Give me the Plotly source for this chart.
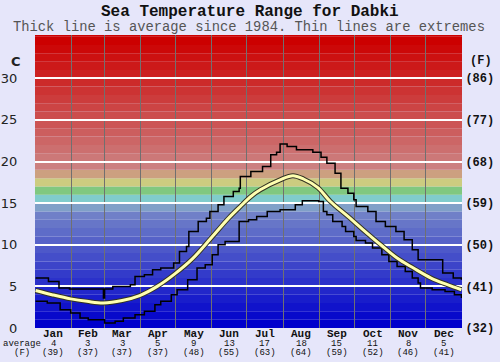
import plotly.graph_objects as go

# ---- data ----
months = ["Jan", "Feb", "Mar", "Apr", "May", "Jun", "Jul", "Aug", "Sep", "Oct", "Nov", "Dec"]
month_mid_day = [16, 45.5, 75, 105.5, 136, 166.5, 197, 228, 258.5, 289, 319.5, 350]
month_avg_c = [4, 3, 3, 5, 9, 13, 17, 18, 15, 11, 8, 5]
month_avg_f = [39, 37, 37, 37, 48, 55, 63, 64, 59, 52, 46, 41]
month_bounds = [31.5, 59.5, 90.5, 120.5, 151.5, 181.5, 212.5, 243.5, 273.5, 304.5, 334.5]

avg_days = [1, 15, 31, 45, 59, 75, 90, 105, 120, 135, 151, 166, 176, 185, 193, 210, 221,
            230, 242, 253, 268, 281, 296, 310, 324, 339, 353, 365]
avg_vals = [4.5, 4.0, 3.5, 3.2, 3.0, 3.3, 3.9, 5.0, 6.5, 8.3, 10.8, 13.2, 14.6, 15.8, 16.6, 17.8, 18.3,
            17.9, 16.9, 15.2, 13.4, 11.8, 10.0, 8.4, 7.2, 6.0, 5.2, 4.6]

max_days = [1, 12, 21, 30, 59, 60, 67, 82, 86, 94, 101, 108, 119, 124, 130, 132, 140, 147, 150,
            157, 162, 170, 175, 176, 185, 195, 202, 207, 210, 216, 224, 238, 245, 250, 257, 262,
            268, 273, 275, 285, 292, 300, 309, 316, 323, 328, 349, 358, 365]
max_vals = [6.0, 5.6, 4.8, 4.7, 3.6, 4.7, 5.0, 5.2, 6.2, 6.4, 7.0, 7.2, 7.8, 9.2, 9.8, 11.6, 12.8, 13.2, 14.0,
            14.8, 15.8, 16.4, 16.8, 18.2, 18.8, 19.4, 20.8, 21.1, 22.1, 21.8, 21.4, 21.1, 20.5, 19.8, 18.6, 16.8,
            16.2, 15.4, 14.6, 14.0, 12.8, 12.2, 11.6, 10.6, 9.4, 8.2, 6.6, 6.0, 5.8]

min_days = [1, 11, 22, 31, 39, 46, 60, 69, 76, 86, 94, 103, 108, 117, 122, 131, 139, 146, 152, 157,
            163, 175, 183, 190, 199, 210, 223, 229, 243, 247, 250, 255, 263, 266, 273, 275, 283, 289,
            297, 303, 310, 317, 323, 328, 330, 340, 351, 359, 365]
min_vals = [3.2, 3.0, 2.2, 1.8, 1.2, 1.0, 0.6, 0.8, 1.2, 1.6, 2.0, 2.8, 3.2, 4.0, 4.6, 5.8, 7.2, 7.6, 8.8, 10.0,
            10.4, 12.8, 13.0, 13.4, 14.0, 14.2, 14.8, 15.3, 15.2, 14.0, 13.6, 12.8, 12.2, 11.6, 11.0, 10.5, 10.2, 9.6,
            8.8, 8.0, 7.4, 6.8, 6.0, 5.4, 4.8, 4.6, 4.4, 4.0, 3.6]

c_ticks = [0, 5, 10, 15, 20, 25, 30]
f_ticks = ["(32)", "(41)", "(50)", "(59)", "(68)", "(77)", "(86)"]

# ---- background colour bands (one per degree) ----
def band_color(v):
    if v <= 13:
        t = v / 13.0
        r = 0 + t * 112
        g = 0 + t * 128
        b = 204 - t * 4
        return f"rgb({int(r)},{int(g)},{int(b)})"
    special = {14: "rgb(128,160,200)", 15: "rgb(128,204,204)", 16: "rgb(128,200,128)",
               17: "rgb(204,204,128)", 18: "rgb(204,160,128)", 19: "rgb(204,128,128)"}
    if v in special:
        return special[v]
    t = min((v - 20) / 14.0, 1.0)
    gb = int(120 * (1 - t))
    return f"rgb(204,{gb},{gb})"

shapes = []
for v in range(0, 36):
    shapes.append(dict(type="rect", xref="paper", yref="y", x0=0, x1=1, y0=v, y1=v + 1,
                       fillcolor=band_color(v), line=dict(width=0), layer="below"))

fig = go.Figure()
fig.add_trace(go.Scatter(x=max_days, y=max_vals, mode="lines", line=dict(color="black", width=1.5, shape="hv"),
                         hoverinfo="skip", showlegend=False))
fig.add_trace(go.Scatter(x=min_days, y=min_vals, mode="lines", line=dict(color="black", width=1.5, shape="hv"),
                         hoverinfo="skip", showlegend=False))
fig.add_trace(go.Scatter(x=avg_days, y=avg_vals, mode="lines",
                         line=dict(color="#333322", width=5, shape="spline", smoothing=1.0),
                         hoverinfo="skip", showlegend=False))
fig.add_trace(go.Scatter(x=avg_days, y=avg_vals, mode="lines",
                         line=dict(color="#ffffb0", width=3, shape="spline", smoothing=1.0),
                         hoverinfo="skip", showlegend=False))
# invisible trace for right axis
fig.add_trace(go.Scatter(x=[1], y=[0], yaxis="y2", mode="markers", marker=dict(opacity=0),
                         hoverinfo="skip", showlegend=False))

mono = "Liberation Mono, Courier New, monospace"
PH = 293.0  # plot height in px
Y0 = 327.6  # pixel row of 0 C


def py(pix):
    return (Y0 - pix) / PH


def px(pix):
    return (pix - 35) / 427.0


fig.update_layout(
    width=500, height=362,
    margin=dict(l=35, r=38, t=35, b=34, autoexpand=False),
    paper_bgcolor="#e6e6fa",
    plot_bgcolor="#e6e6fa",
    shapes=shapes,
    xaxis=dict(range=[0.5, 365.5], tickvals=month_bounds, showticklabels=False, ticks="",
               showgrid=True, gridcolor="#707070", gridwidth=1, zeroline=False, showline=False,
               fixedrange=True, automargin=False),
    yaxis=dict(range=[0, 35.2], tickvals=c_ticks, ticktext=[str(c) for c in c_ticks],
               showgrid=True, gridcolor="white", gridwidth=1.5, zeroline=False, automargin=False,
               ticks="outside", ticklen=14, tickcolor="rgba(0,0,0,0)",
               tickfont=dict(family="DejaVu Sans, Verdana, sans-serif", size=13, color="#222")),
    yaxis2=dict(range=[0, 35.2], overlaying="y", side="right", tickvals=c_ticks, ticktext=f_ticks,
                showgrid=False, zeroline=False, automargin=False, ticks="outside", ticklen=0,
                tickcolor="rgba(0,0,0,0)",
                tickfont=dict(family=mono, size=12, color="#111", weight="bold")),
)

annotations = []
annotations.append(dict(text="<b>Sea Temperature Range for Dabki</b>", xref="paper", x=px(250),
                        yref="paper", y=py(12), xanchor="center", yanchor="middle", showarrow=False,
                        font=dict(family=mono, size=16, color="#111")))
annotations.append(dict(text="Thick line is average since 1984. Thin lines are extremes", xref="paper",
                        x=px(249), yref="paper", y=py(27), xanchor="center",
                        yanchor="middle", showarrow=False, font=dict(family=mono, size=13.8, color="#555")))
annotations.append(dict(text="<b>C</b>", xref="paper", x=px(16), yref="paper", y=py(61),
                        xanchor="center", yanchor="middle", showarrow=False,
                        font=dict(family="DejaVu Sans, sans-serif", size=13, color="#222")))
annotations.append(dict(text="<b>(F)</b>", xref="paper", x=px(481), yref="paper", y=py(61),
                        xanchor="center", yanchor="middle", showarrow=False,
                        font=dict(family=mono, size=12, color="#111")))
annotations.append(dict(text="average", xref="paper", x=px(22), yref="paper", y=py(344),
                        xanchor="center", yanchor="middle", showarrow=False,
                        font=dict(family=mono, size=9, color="#111")))
annotations.append(dict(text="(F)", xref="paper", x=px(22), yref="paper", y=py(352.5),
                        xanchor="center", yanchor="middle", showarrow=False,
                        font=dict(family=mono, size=9, color="#111")))
for i, m in enumerate(months):
    annotations.append(dict(text=f"<b>{m}</b>", x=month_mid_day[i], xref="x", y=py(334),
                            yref="paper", yanchor="middle", showarrow=False,
                            font=dict(family=mono, size=11, color="#111")))
    annotations.append(dict(text=str(month_avg_c[i]), x=month_mid_day[i], xref="x", y=py(344),
                            yref="paper", yanchor="middle", showarrow=False,
                            font=dict(family=mono, size=9, color="#111")))
    annotations.append(dict(text=f"({month_avg_f[i]})", x=month_mid_day[i], xref="x", y=py(352.5),
                            yref="paper", yanchor="middle", showarrow=False,
                            font=dict(family=mono, size=9, color="#111")))

fig.update_layout(annotations=annotations)
fig.write_html("out.html", config={"displayModeBar": False},
               post_script="document.body.style.margin='0';")
